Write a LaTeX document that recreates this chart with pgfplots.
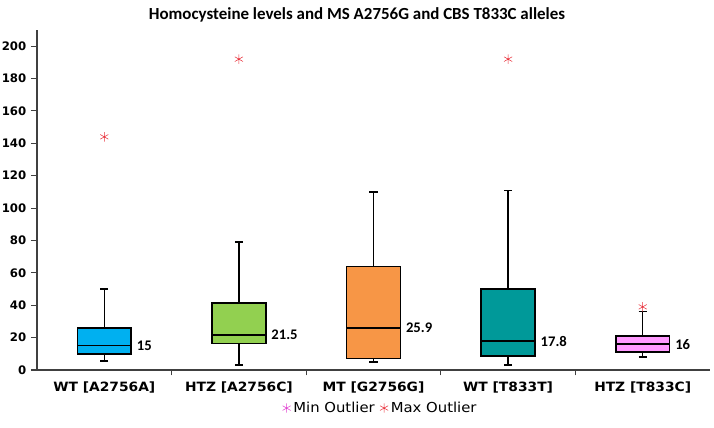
\documentclass[border=0pt]{standalone}
\usepackage{pgfplots}
\pgfplotsset{compat=1.18}
\usepgfplotslibrary{statistics}
\usepackage{fontspec}
\setmainfont{DejaVu Sans}
\newfontfamily\tickfont[FakeStretch=1.08]{DejaVu Sans}
\newfontfamily\calfont{Carlito}
\definecolor{c1}{HTML}{00B0F0}
\definecolor{c2}{HTML}{92D050}
\definecolor{c3}{HTML}{F79646}
\definecolor{c4}{HTML}{009999}
\definecolor{c5}{HTML}{FF99FF}
\definecolor{minout}{HTML}{E040D0}
\definecolor{maxout}{HTML}{E8303A}
\begin{document}
\begin{tikzpicture}
\useasboundingbox (0,0) rectangle (535.5pt,321pt);
\node[font=\calfont\bfseries\fontsize{12.7}{14}\selectfont] at (267.75pt,310pt) {Homocysteine levels and MS A2756G and CBS T833C alleles};
\begin{axis}[
  at={(27.75pt,43.5pt)}, anchor=south west,
  scale only axis, width=504.75pt, height=255pt,
  xmin=0.5, xmax=5.5, ymin=0, ymax=210,
  axis x line*=bottom, axis y line*=left,
  axis line style={line width=0.8pt, draw=black!75},
  ytick={0,20,...,200},
  xtick={1,2,3,4,5},
  xticklabels={WT [A2756A], HTZ [A2756C], MT [G2756G], WT [T833T], HTZ [T833C]},
  minor xtick={1.5,2.5,3.5,4.5},
  major x tick style={draw=none},
  minor x tick style={line width=0.8pt, draw=black!75},
  ytick style={line width=0.8pt, draw=black!75},
  tick align=outside,
  major tick length=4.5pt, minor tick length=4pt,
  /pgf/number format/assume math mode=true,
  yticklabel style={font=\bfseries\fontsize{8.8}{10}\selectfont},
  xticklabel style={font=\tickfont\bfseries\fontsize{9.6}{11}\selectfont, yshift=-1pt},
  clip=false,
  legend style={at={(0.511,-0.112)}, anchor=center, draw=none, fill=none,
    font=\tickfont\fontsize{10.3}{12}\selectfont, legend columns=2,
    /tikz/every even column/.append style={column sep=2pt},
    inner sep=0pt},
  legend image code/.code={\draw[#1] (0pt,0pt) plot coordinates {(0.25em,0pt)};},
  boxplot/draw direction=y,
  boxplot/box extend=0.4,
  boxplot/whisker extend=0.06,
]
\addlegendimage{only marks, mark=asterisk, mark size=3.5pt, minout}
\addlegendentry{Min Outlier}
\addlegendimage{only marks, mark=asterisk, mark size=3.5pt, maxout}
\addlegendentry{Max Outlier}

\addplot[boxplot prepared={draw position=1, lower whisker=5.5, lower quartile=10, median=15, upper quartile=26, upper whisker=50}, draw=black, fill=c1, line width=1.1pt, forget plot] coordinates {};
\addplot[boxplot prepared={draw position=2, lower whisker=3, lower quartile=16.5, median=21.5, upper quartile=41.5, upper whisker=79}, draw=black, fill=c2, line width=1.1pt, forget plot] coordinates {};
\addplot[boxplot prepared={draw position=3, lower whisker=5, lower quartile=7, median=25.9, upper quartile=64, upper whisker=110}, draw=black, fill=c3, line width=1.1pt, forget plot] coordinates {};
\addplot[boxplot prepared={draw position=4, lower whisker=3, lower quartile=8.6, median=17.8, upper quartile=50, upper whisker=111}, draw=black, fill=c4, line width=1.1pt, forget plot] coordinates {};
\addplot[boxplot prepared={draw position=5, lower whisker=8, lower quartile=11, median=16, upper quartile=21, upper whisker=36}, draw=black, fill=c5, line width=1.1pt, forget plot] coordinates {};

\addplot[only marks, mark=asterisk, mark size=3.5pt, maxout, forget plot] coordinates {(1,144) (2,192) (4,192) (5,39)};

\addplot[only marks, mark=none, forget plot, nodes near coords, point meta=explicit symbolic,
  every node near coord/.append style={anchor=west, inner sep=1pt, font=\calfont\bfseries\fontsize{11}{12}\selectfont}]
  coordinates {(1.23,15)[15] (2.23,21.5)[21.5] (3.23,25.9)[25.9] (4.23,17.8)[17.8] (5.23,16)[16]};
\end{axis}
\end{tikzpicture}
\end{document}
